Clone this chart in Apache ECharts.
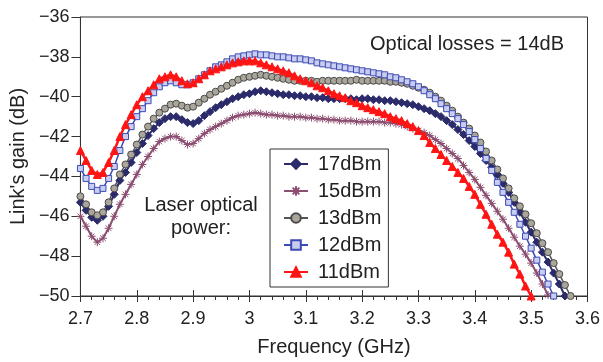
<!DOCTYPE html>
<html>
<head>
<meta charset="utf-8">
<script src="https://cdn.jsdelivr.net/npm/echarts@6/dist/echarts.min.js"></script>
<style>
  html, body { margin: 0; padding: 0; background: #fff; }
  #chart { width: 603px; height: 362px; }
</style>
</head>
<body>
<div id="chart"></div>
<script>
// frequency grid (GHz)
var freq = [2.70, 2.71, 2.72, 2.73, 2.74, 2.75, 2.76, 2.77, 2.78, 2.79,
  2.80, 2.81, 2.82, 2.83, 2.84, 2.85, 2.86, 2.87, 2.88, 2.89,
  2.90, 2.91, 2.92, 2.93, 2.94, 2.95, 2.96, 2.97, 2.98, 2.99,
  3.00, 3.01, 3.02, 3.03, 3.04, 3.05, 3.06, 3.07, 3.08, 3.09,
  3.10, 3.11, 3.12, 3.13, 3.14, 3.15, 3.16, 3.17, 3.18, 3.19,
  3.20, 3.21, 3.22, 3.23, 3.24, 3.25, 3.26, 3.27, 3.28, 3.29,
  3.30, 3.31, 3.32, 3.33, 3.34, 3.35, 3.36, 3.37, 3.38, 3.39,
  3.40, 3.41, 3.42, 3.43, 3.44, 3.45, 3.46, 3.47, 3.48, 3.49,
  3.50, 3.51, 3.52, 3.53, 3.54, 3.55, 3.56, 3.57];

// link gain (dB), one array per laser power
var gain17 = [-45.3, -45.7, -46.05, -46.2, -46.0, -45.5, -44.9, -44.2, -43.8, -43.3,
  -42.8, -42.35, -41.95, -41.6, -41.3, -41.1, -41.0, -41.0, -41.15, -41.3,
  -41.35, -41.2, -40.95, -40.75, -40.55, -40.4, -40.25, -40.1, -40.0, -39.9,
  -39.85, -39.75, -39.7, -39.75, -39.8, -39.85, -39.9, -39.9, -39.95, -39.95,
  -40.0, -40.0, -40.05, -40.05, -40.1, -40.1, -40.1, -40.1, -40.1, -40.15,
  -40.1, -40.1, -40.15, -40.15, -40.2, -40.2, -40.25, -40.3, -40.35, -40.4,
  -40.5, -40.6, -40.7, -40.85, -41.0, -41.2, -41.4, -41.65, -41.9, -42.2,
  -42.5, -42.85, -43.2, -43.55, -43.9, -44.35, -44.8, -45.3, -45.8, -46.3,
  -46.8, -47.3, -47.8, -48.3, -48.85, -49.4, -50.0];

var gain15 = [-46.0, -46.5, -47.0, -47.3, -47.1, -46.6, -46.0, -45.4, -44.9, -44.4,
  -43.9, -43.4, -43.0, -42.6, -42.25, -42.1, -42.0, -42.0, -42.2, -42.4,
  -42.35, -42.1, -41.85, -41.65, -41.5, -41.35, -41.2, -41.05, -40.95, -40.9,
  -40.85, -40.8, -40.85, -40.9, -40.9, -40.95, -40.95, -41.0, -41.0, -41.0,
  -41.05, -41.05, -41.1, -41.1, -41.15, -41.15, -41.2, -41.2, -41.2, -41.25,
  -41.25, -41.25, -41.25, -41.25, -41.3, -41.3, -41.35, -41.4, -41.5, -41.6,
  -41.7, -41.8, -41.95, -42.15, -42.35, -42.6, -42.85, -43.1, -43.45, -43.8,
  -44.15, -44.55, -44.95, -45.35, -45.75, -46.15, -46.6, -47.05, -47.5, -47.9,
  -48.35, -48.85, -49.4, -49.95];

var gain13 = [-45.0, -45.4, -45.8, -45.95, -45.8, -45.3, -44.6, -43.9, -43.4, -42.9,
  -42.4, -41.9, -41.5, -41.1, -40.8, -40.6, -40.4, -40.35, -40.45, -40.55,
  -40.5, -40.3, -40.1, -39.9, -39.75, -39.6, -39.45, -39.3, -39.15, -39.05,
  -39.0, -38.95, -38.9, -38.95, -39.0, -39.05, -39.1, -39.15, -39.2, -39.2,
  -39.2, -39.2, -39.25, -39.2, -39.2, -39.2, -39.2, -39.2, -39.2, -39.15,
  -39.2, -39.2, -39.2, -39.2, -39.2, -39.25, -39.25, -39.3, -39.35, -39.45,
  -39.55, -39.65, -39.8, -40.0, -40.2, -40.45, -40.7, -41.0, -41.3, -41.6,
  -41.95, -42.3, -42.75, -43.2, -43.65, -44.1, -44.6, -45.1, -45.5, -45.9,
  -46.35, -46.85, -47.35, -47.8, -48.35, -48.9, -49.45, -50.0];

var gain12 = [-43.6, -44.1, -44.5, -44.7, -44.6, -44.1, -43.5, -42.7, -42.0, -41.5,
  -41.0, -40.6, -40.2, -39.8, -39.5, -39.3, -39.2, -39.3, -39.4, -39.4,
  -39.3, -39.1, -38.9, -38.7, -38.5, -38.4, -38.25, -38.1, -38.0, -37.95,
  -37.9, -37.85, -37.9, -37.9, -37.95, -38.0, -38.0, -38.05, -38.1, -38.1,
  -38.15, -38.2, -38.3, -38.35, -38.4, -38.45, -38.5, -38.55, -38.6, -38.65,
  -38.7, -38.75, -38.8, -38.85, -38.9, -39.0, -39.05, -39.15, -39.25, -39.35,
  -39.5, -39.7, -39.9, -40.1, -40.35, -40.6, -40.85, -41.1, -41.4, -41.75,
  -42.15, -42.6, -43.1, -43.7, -44.3, -44.8, -45.3, -45.8, -46.4, -47.0,
  -47.6, -48.2, -48.8, -49.4, -50.0];

var gain11 = [-42.7, -43.2, -43.7, -43.9, -43.8, -43.3, -42.7, -42.0, -41.4, -40.9,
  -40.4, -40.0, -39.7, -39.4, -39.1, -39.0, -38.9, -39.0, -39.2, -39.35,
  -39.3, -39.1, -38.9, -38.7, -38.6, -38.5, -38.4, -38.3, -38.25, -38.2,
  -38.2, -38.2, -38.3, -38.4, -38.5, -38.6, -38.7, -38.8, -38.95, -39.1,
  -39.2, -39.3, -39.45, -39.55, -39.7, -39.85, -39.95, -40.05, -40.2, -40.3,
  -40.45, -40.55, -40.65, -40.75, -40.85, -41.0, -41.1, -41.2, -41.35, -41.5,
  -41.7, -41.95, -42.3, -42.6, -42.9, -43.2, -43.5, -43.8, -44.1, -44.5,
  -44.9, -45.4, -45.9, -46.4, -46.9, -47.3, -47.8, -48.4, -48.9, -49.5,
  -50.0];

var seriesNames = ['17dBm', '15dBm', '13dBm', '12dBm', '11dBm'];
var xTicks = [2.7, 2.8, 2.9, 3.0, 3.1, 3.2, 3.3, 3.4, 3.5, 3.6];
var yTicks = [-50, -48, -46, -44, -42, -40, -38, -36];

function pairs(vals) {
  return vals.map(function (v, i) { return [freq[i], v]; });
}

var FONT = 'Liberation Sans, Arial, sans-serif';
var TXT = '#222';

var chart = echarts.init(document.getElementById('chart'));

var option = {
  animation: false,
  backgroundColor: '#fff',
  textStyle: { fontFamily: FONT },
  grid: {
    left: 78, right: 12, top: 17, bottom: 62,
    show: true, borderColor: '#333', borderWidth: 1, backgroundColor: 'transparent'
  },
  legend: {
    data: seriesNames,
    orient: 'vertical',
    left: 270, top: 149,
    backgroundColor: '#fff',
    borderColor: '#333', borderWidth: 1, borderRadius: 0,
    padding: [5, 7, 5, 13],
    itemWidth: 24, itemHeight: 12, itemGap: 7,
    textStyle: { fontFamily: FONT, fontSize: 20, color: TXT, lineHeight: 20, padding: [0, 0, 0, 5] }
  },
  xAxis: [{
    type: 'value',
    min: xTicks[0], max: xTicks[xTicks.length - 1], interval: 0.1,
    name: 'Frequency (GHz)', nameLocation: 'middle', nameGap: 41,
    nameTextStyle: { fontFamily: FONT, fontSize: 20, color: TXT },
    axisLine: { lineStyle: { color: '#333', width: 1 } },
    axisTick: { length: 6, lineStyle: { color: '#333' } },
    minorTick: { show: true, splitNumber: 5, length: 4, lineStyle: { color: '#333' } },
    splitLine: { show: false },
    axisLabel: {
      fontFamily: FONT, fontSize: 18, color: TXT, margin: 14,
      formatter: function (v) { return String(Math.round(v * 10) / 10); }
    }
  }, {
    type: 'value', position: 'bottom',
    min: xTicks[0], max: xTicks[xTicks.length - 1], interval: 0.1,
    axisLine: { show: false },
    axisTick: { inside: true, length: 6, lineStyle: { color: '#333' } },
    axisLabel: { show: false },
    splitLine: { show: false }
  }],
  yAxis: {
    type: 'value',
    min: yTicks[0], max: yTicks[yTicks.length - 1], interval: 2,
    name: "Link's gain (dB)", nameLocation: 'middle', nameGap: 51, nameRotate: 90,
    nameTextStyle: { fontFamily: FONT, fontSize: 20, color: TXT },
    axisLine: { show: true, lineStyle: { color: '#333', width: 1 } },
    axisTick: { show: true, length: 9, lineStyle: { color: '#333' } },
    splitLine: { show: false },
    axisLabel: {
      fontFamily: FONT, fontSize: 18, color: TXT, margin: 11,
      formatter: function (v) { return String(v).replace('-', '\u2212'); }
    }
  },
  series: [{
    name: seriesNames[0], type: 'line', data: pairs(gain17),
    symbol: 'diamond', symbolSize: 8, showAllSymbol: true,
    lineStyle: { color: '#2b2a6b', width: 2 },
    itemStyle: { color: '#2b2a6b', borderColor: '#2b2a6b', borderWidth: 1 }
  }, {
    name: seriesNames[1], type: 'line', data: pairs(gain15),
    symbol: 'path://M0,5L10,5M5,0L5,10M1.5,1.5L8.5,8.5M8.5,1.5L1.5,8.5', symbolSize: 8, showAllSymbol: true,
    lineStyle: { color: '#8b4d70', width: 2 },
    itemStyle: { color: '#8b4d70', borderColor: '#8b4d70', borderWidth: 1 }
  }, {
    name: seriesNames[2], type: 'line', data: pairs(gain13),
    symbol: 'circle', symbolSize: 7, showAllSymbol: true,
    lineStyle: { color: '#555', width: 1.5 },
    itemStyle: { color: '#aaa69b', borderColor: '#4a4a4a', borderWidth: 1 }
  }, {
    name: seriesNames[3], type: 'line', data: pairs(gain12),
    symbol: 'rect', symbolSize: 6, showAllSymbol: true,
    lineStyle: { color: '#3c4bb4', width: 1.5 },
    itemStyle: { color: '#c9cdf0', borderColor: '#3c4bb4', borderWidth: 1 }
  }, {
    name: seriesNames[4], type: 'line', data: pairs(gain11),
    symbol: 'triangle', symbolSize: 8, showAllSymbol: true,
    lineStyle: { color: '#ff1414', width: 2.5 },
    itemStyle: { color: '#ff1414', borderColor: '#ff1414', borderWidth: 1 }
  }],
  graphic: [{
    type: 'text', left: 370, top: 34,
    style: { text: 'Optical losses = 14dB', font: '20px ' + FONT, fill: TXT }
  }, {
    type: 'text', x: 201, y: 217,
    style: {
      text: 'Laser optical\npower:', font: '20px ' + FONT, fill: TXT,
      align: 'center', verticalAlign: 'middle', lineHeight: 23
    }
  }]
};

chart.setOption(option);
</script>
</body>
</html>
